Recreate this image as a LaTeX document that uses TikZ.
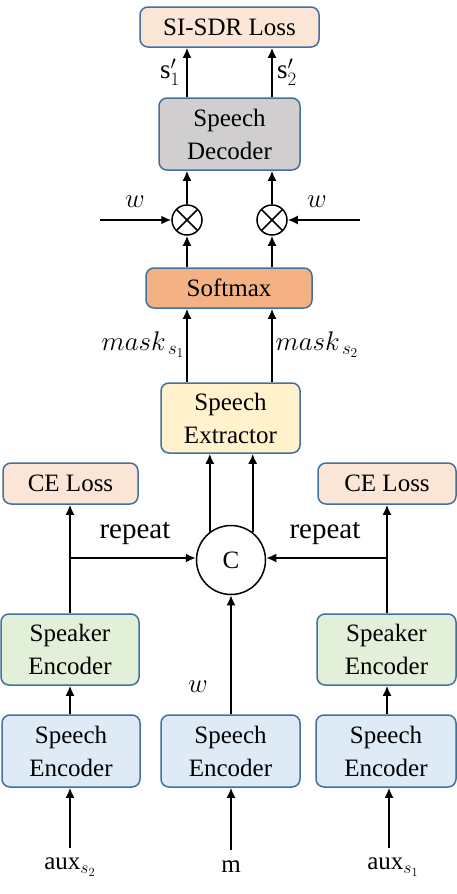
\RequirePackage{fix-cm}
\documentclass[tikz,border=0pt]{standalone}
\usepackage{fontspec}
\setmainfont{Liberation Serif}
\usetikzlibrary{arrows.meta,calc}
\definecolor{bord}{HTML}{41719C}
\definecolor{losscol}{HTML}{FBE5D6}
\definecolor{deccol}{HTML}{D0CECE}
\definecolor{softcol}{HTML}{F4B183}
\definecolor{extcol}{HTML}{FFF2CC}
\definecolor{spkcol}{HTML}{E2F0D9}
\definecolor{enccol}{HTML}{DEEBF7}
\tikzset{
  blk/.style={draw=bord, line width=1.5pt, rounded corners=8pt, align=center, inner sep=0pt,
    font=\fontsize{25}{33}\selectfont},
  arr/.style={line width=1.8pt, -{Latex[length=10pt,width=9pt]}},
  lbl/.style={font=\fontsize{25}{30}\selectfont, inner sep=0pt},
  mlbl/.style={font=\fontsize{27}{30}\selectfont, inner sep=0pt},
  replbl/.style={font=\fontsize{29}{32}\selectfont, inner sep=0pt},
  mul/.style={draw, circle, line width=1.5pt, minimum size=30pt, inner sep=0pt,
    path picture={\draw[line width=1.5pt] (path picture bounding box.north west) -- (path picture bounding box.south east)
      (path picture bounding box.north east) -- (path picture bounding box.south west);}},
}
\begin{document}
\begin{tikzpicture}[x=1pt,y=-1pt]
\useasboundingbox (0,0) rectangle (457,894);
% boxes
\node[blk, fill=losscol, minimum width=179pt, minimum height=40pt] (loss) at (229.5,27) {SI-SDR Loss};
\node[blk, fill=deccol, minimum width=141pt, minimum height=72pt] (dec) at (229.5,134) {Speech\\Decoder};
\node[mul] (mulL) at (187,220) {};
\node[mul] (mulR) at (272,220) {};
\node[blk, fill=softcol, minimum width=166pt, minimum height=40pt] (soft) at (229,288) {Softmax};
\node[blk, fill=extcol, minimum width=139pt, minimum height=70pt] (ext) at (230.5,418) {Speech\\Extractor};
\node[blk, fill=losscol, minimum width=135pt, minimum height=41pt] (ceL) at (70.5,483.5) {CE Loss};
\node[blk, fill=losscol, minimum width=138pt, minimum height=41pt] (ceR) at (387,483.5) {CE Loss};
\node[draw, circle, line width=1.5pt, minimum size=69pt, inner sep=0pt, font=\fontsize{25}{30}\selectfont] (C) at (231,560) {C};
\node[blk, fill=spkcol, minimum width=138pt, minimum height=71pt] (spkL) at (70,649.5) {Speaker\\Encoder};
\node[blk, fill=spkcol, minimum width=139pt, minimum height=71pt] (spkR) at (386.5,649.5) {Speaker\\Encoder};
\node[blk, fill=enccol, minimum width=138pt, minimum height=72pt] (encL) at (71,751) {Speech\\Encoder};
\node[blk, fill=enccol, minimum width=139pt, minimum height=72pt] (encM) at (230.5,751) {Speech\\Encoder};
\node[blk, fill=enccol, minimum width=140pt, minimum height=72pt] (encR) at (386,751) {Speech\\Encoder};
% input labels
\node[lbl] (auxL) at (70,867) {aux$_{s_2}$};
\node[lbl] (min) at (231,867) {m};
\node[lbl] (auxR) at (393,867) {aux$_{s_1}$};
\coordinate (inL) at (70,848);
\coordinate (inM) at (231,850);
\coordinate (inR) at (389,848);
\draw[arr] (inL) -- (inL |- encL.south);
\draw[arr] (inM) -- (inM |- encM.south);
\draw[arr] (inR) -- (inR |- encR.south);
% encoders up
\coordinate (xL) at (70,0);
\coordinate (xR) at (387,0);
\draw[arr] (xL |- encL.north) -- (xL |- spkL.south);
\draw[arr] (xR |- encR.north) -- (xR |- spkR.south);
\draw[arr] (xL |- spkL.north) -- (xL |- ceL.south);
\draw[arr] (xR |- spkR.north) -- (xR |- ceR.south);
\coordinate (jL) at (70,558);
\coordinate (jR) at (387,558);
\draw[arr] (jL) -- (jL -| C.west);
\draw[arr] (jR) -- (jR -| C.east);
\draw[arr] (encM.north -| C) -- (C.south);
\node[replbl] (repL) at (135,533) {repeat};
\node[replbl] (repR) at (325,533) {repeat};
\node[mlbl] (wM) at (198,687) {$w$};
% C to extractor
\draw[arr] (C.127.5) -- (C.127.5 |- ext.south);
\draw[arr] (C.52.5) -- (C.52.5 |- ext.south);
% extractor to softmax
\draw[arr] (ext.north -| mulL) -- (soft.south -| mulL);
\draw[arr] (ext.north -| mulR) -- (soft.south -| mulR);
\node[mlbl] (mask1) at (143,345) {$mask_{\,s_1}$};
\node[mlbl] (mask2) at (317,345) {$mask_{\,s_2}$};
% softmax to multipliers
\draw[arr] (soft.north -| mulL) -- (mulL.south);
\draw[arr] (soft.north -| mulR) -- (mulR.south);
\coordinate (wLin) at (100,220);
\coordinate (wRin) at (360,220);
\draw[arr] (wLin) -- (mulL.west);
\draw[arr] (wRin) -- (mulR.east);
\node[mlbl] (wL) at (135,202) {$w$};
\node[mlbl] (wR) at (317,202) {$w$};
% multipliers to decoder
\draw[arr] (mulL.north) -- (dec.south -| mulL);
\draw[arr] (mulR.north) -- (dec.south -| mulR);
% decoder to loss
\draw[arr] (dec.north -| mulL) -- (loss.south -| mulL);
\draw[arr] (dec.north -| mulR) -- (loss.south -| mulR);
\node[mlbl] (s1) at (170,72) {$\mathrm{s}_1'$};
\node[mlbl] (s2) at (287,72) {$\mathrm{s}_2'$};
\end{tikzpicture}
\end{document}
